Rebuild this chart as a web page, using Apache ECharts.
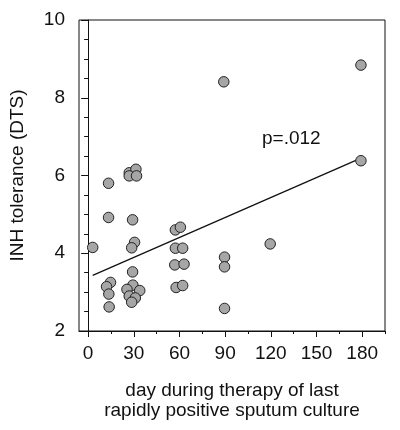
<!DOCTYPE html>
<html>
<head>
<meta charset="utf-8">
<script src="https://cdn.jsdelivr.net/npm/echarts@6/dist/echarts.min.js"></script>
<style>
html,body{margin:0;padding:0;background:#fff;}
#chart{width:400px;height:430px;}
</style>
</head>
<body>
<div id="chart"></div>
<script>
// ---- data ----
var days = [3, 13.4, 13.4, 14.7, 12.1, 13.6, 13.8,
            27, 31.4, 27, 31.8, 29.2, 30.5, 28.6, 29.2, 29.4, 25.5, 33.9, 27, 31, 28.6,
            57.3, 60.6, 57.3, 62.1, 56.9, 63, 57.8, 62.1,
            89.1, 89.6, 89.6, 89.6,
            119.6,
            179.2, 179.2];
var tolerance = [4.15, 5.80, 4.92, 3.25, 3.14, 2.95, 2.62,
                 6.07, 6.16, 5.99, 5.99, 4.86, 4.28, 4.14, 3.52, 3.18, 3.07, 3.04, 2.90, 2.85, 2.74,
                 4.60, 4.67, 4.13, 4.13, 3.70, 3.72, 3.12, 3.17,
                 8.41, 3.90, 3.65, 2.58,
                 4.24,
                 8.84, 6.38];
var fitDays = [3, 180];
var fitTolerance = [3.43, 6.46];
var xMajorTicks = [0, 30, 60, 90, 120, 150, 180];
var xMinorTicks = [15, 45, 75, 105, 135, 165, 195];
var yTicks = [2, 4, 6, 8, 10];
var annotation = 'p=.012';
var xName = 'day during therapy of last\nrapidly positive sputum culture';
var yName = 'INH tolerance (DTS)';

var FONT = '"Liberation Sans", Arial, Helvetica, sans-serif';
var INK = '#111';

var points = days.map(function (d, i) { return [d, tolerance[i]]; });
var fit = fitDays.map(function (d, i) { return [d, fitTolerance[i]]; });

var chart = echarts.init(document.getElementById('chart'), null, {renderer: 'canvas'});
chart.setOption({
  animation: false,
  backgroundColor: '#fff',
  textStyle: {fontFamily: FONT, color: INK},
  grid: {left: 76, right: 15, top: 20, bottom: 99, show: true, borderColor: INK, borderWidth: 1, backgroundColor: 'transparent'},
  xAxis: [{
    type: 'value', min: -6, max: 195, position: 'bottom',
    name: xName, nameLocation: 'middle', nameGap: 50,
    nameTextStyle: {fontSize: 19, color: INK, fontFamily: FONT, lineHeight: 20},
    axisLine: {show: true, lineStyle: {color: INK, width: 1}},
    axisTick: {show: true, length: 6, lineStyle: {color: INK}, customValues: xMajorTicks},
    axisLabel: {show: true, fontSize: 19, color: INK, fontFamily: FONT, margin: 13, customValues: xMajorTicks},
    splitLine: {show: false}
  }, {
    type: 'value', min: -6, max: 195, position: 'bottom',
    axisLine: {show: false},
    axisTick: {show: true, length: 3, lineStyle: {color: INK}, customValues: xMinorTicks},
    axisLabel: {show: false},
    splitLine: {show: false}
  }],
  yAxis: [{
    type: 'value', min: 2, max: 10, interval: 2,
    name: yName, nameLocation: 'middle', nameGap: 52,
    nameTextStyle: {fontSize: 19, color: INK, fontFamily: FONT},
    axisLine: {show: true, lineStyle: {color: INK, width: 1}},
    axisTick: {show: true, length: 7, lineStyle: {color: INK}},
    minorTick: {show: true, splitNumber: 4, length: 4, lineStyle: {color: INK}},
    axisLabel: {show: true, fontSize: 19, color: INK, fontFamily: FONT, margin: 14,
      formatter: function (v) { return yTicks.indexOf(v) >= 0 ? String(v) : ''; }},
    splitLine: {show: false}
  }],
  series: [{
    type: 'line', data: fit, xAxisIndex: 0, yAxisIndex: 0,
    showSymbol: false, symbol: 'none',
    lineStyle: {color: INK, width: 1.3}, silent: true, z: 2
  }, {
    type: 'scatter', data: points, xAxisIndex: 0, yAxisIndex: 0,
    symbol: 'circle', symbolSize: 10.5,
    itemStyle: {color: '#a6a6a6', borderColor: '#222', borderWidth: 1, opacity: 1},
    z: 3
  }],
  graphic: [{
    type: 'text', left: 262, top: 129,
    style: {text: annotation, font: '19px ' + FONT, fill: INK}
  }]
});
</script>
</body>
</html>
